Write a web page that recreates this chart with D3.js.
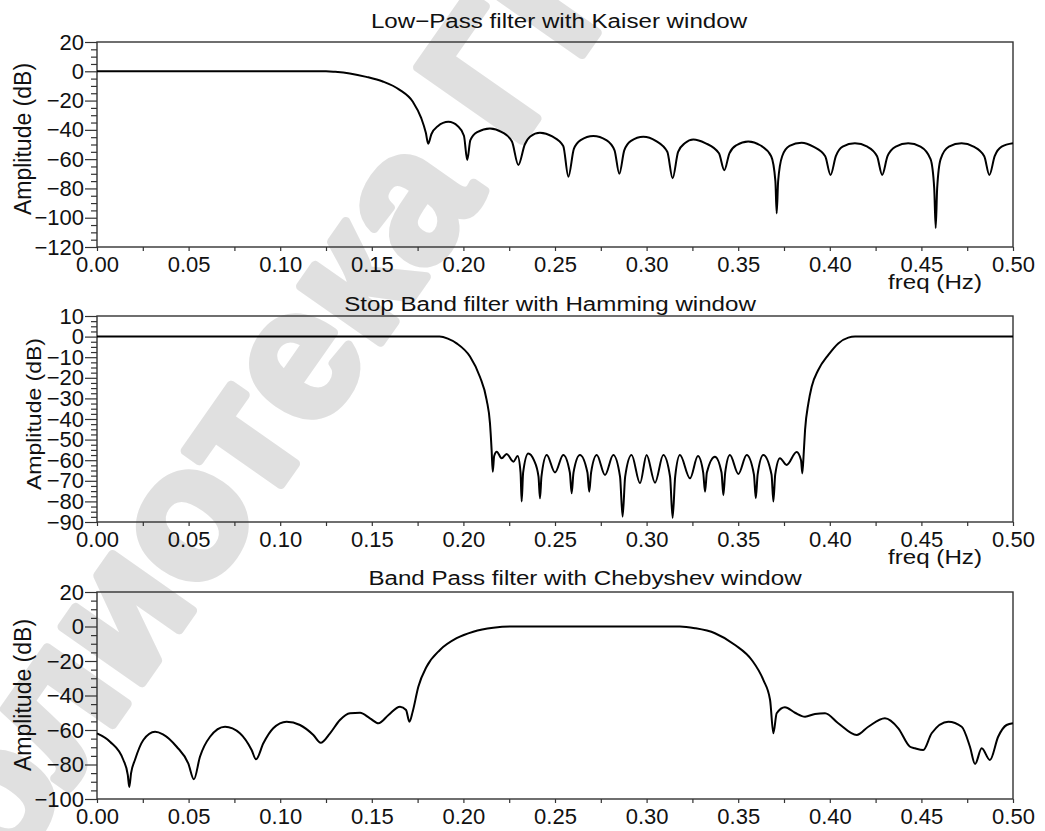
<!DOCTYPE html>
<html>
<head>
<meta charset="utf-8">
<script src="https://cdn.jsdelivr.net/npm/d3@7"></script>
<style>
  html, body { margin: 0; padding: 0; background: #fff; }
  svg { display: block; }
  text { font-family: "Liberation Sans", Arial, sans-serif; fill: #111; }
</style>
</head>
<body>
<svg id="chart" width="1045" height="831"></svg>
<script>
// ---- Frequency responses (freq in Hz, amplitude in dB) ----
const lowpassFreq = [0, 0.05, 0.10, 0.125, 0.13, 0.138, 0.147, 0.156, 0.165, 0.1725, 0.177, 0.1795, 0.1808,
  0.1825, 0.186, 0.1918, 0.197, 0.2003, 0.2021, 0.2038, 0.2075, 0.2145, 0.221, 0.2265, 0.230, 0.2335, 0.2365,
  0.2418, 0.2485, 0.2545, 0.2573, 0.2603, 0.264, 0.2709, 0.278, 0.2825, 0.2851, 0.2878, 0.2915, 0.2982, 0.305,
  0.3113, 0.3142, 0.3172, 0.321, 0.3255, 0.332, 0.3395, 0.3424, 0.3452, 0.349, 0.3555, 0.362, 0.368, 0.3703,
  0.3710, 0.3718, 0.374, 0.378, 0.3846, 0.391, 0.3975, 0.4004, 0.4033, 0.407, 0.4137, 0.4205, 0.4258, 0.4286,
  0.4315, 0.436, 0.4428, 0.4495, 0.455, 0.457, 0.4578, 0.4586, 0.4605, 0.465, 0.4719, 0.4785, 0.4843, 0.4871,
  0.49, 0.4938, 0.5];
const lowpassDb = [0, 0, 0, 0, -0.4, -1.5, -3.8, -7, -12.5, -21, -32, -42, -49.5,
  -43, -37.5, -34.5, -37.5, -44, -60.5, -47, -41.5, -39, -41.5, -48, -64, -50, -44.5,
  -42, -44.5, -51, -72, -53, -47, -44.2, -47, -54, -70, -54, -47.5, -44.7, -47.5,
  -55, -73, -55, -49, -46.5, -49, -56, -67.5, -56, -50.5, -48, -50.5, -58, -75,
  -97, -75, -58, -51, -48.8, -51.5, -58, -70.8, -58, -51.5, -49.2, -51.5, -58, -70.8,
  -58, -51.5, -49.2, -51.5, -60, -80, -107, -80, -60, -51.5, -49.2, -51.5, -58, -70.8,
  -58, -51.5, -49.2];

const stopbandFreq = [0, 0.1, 0.187, 0.1915, 0.1963, 0.2036, 0.209, 0.2127, 0.2145, 0.2154, 0.216, 0.2168,
  0.2182, 0.2209, 0.2236, 0.2273, 0.2296, 0.2312, 0.2318, 0.2326, 0.2354, 0.2385, 0.2410, 0.2418, 0.2426,
  0.2455, 0.250, 0.2545, 0.2581, 0.2591, 0.2601, 0.2636, 0.2677, 0.2687, 0.2697, 0.2728, 0.2773, 0.2818,
  0.2855, 0.2869, 0.2883, 0.2918, 0.2964, 0.300, 0.3046, 0.3091, 0.3128, 0.3142, 0.3156, 0.3182, 0.3237,
  0.3280, 0.3309, 0.3319, 0.3329, 0.3373, 0.3409, 0.3419, 0.3429, 0.3455, 0.3501, 0.3546, 0.3586, 0.3596,
  0.3606, 0.3637, 0.3682, 0.3692, 0.3702, 0.3728, 0.3764, 0.3819, 0.3843, 0.385, 0.3858, 0.3865, 0.3883,
  0.3901, 0.3937, 0.3992, 0.4046, 0.4101, 0.4138, 0.45, 0.5];
const stopbandDb = [0, 0, 0, -1, -3.3, -9.7, -19.5, -30.8, -42, -55, -65.6, -58,
  -55.9, -59.1, -57, -60.7, -58, -66, -80, -66, -56.7, -60, -68, -78.5, -68,
  -57.5, -66, -57.5, -66, -76, -66, -57.5, -66, -75.3, -66, -57.5, -67.2, -57.5,
  -68, -87.4, -68, -57.5, -71.2, -57.5, -70.9, -57.5, -68, -88, -68, -57.5, -68.8,
  -58, -66, -75.3, -66, -58.3, -66, -77, -66, -57.5, -66.7, -57.5, -67, -78.5,
  -67, -57.5, -67, -80, -67, -59, -62.3, -56, -60, -66.4, -56, -45.3, -32.4,
  -24.3, -16.2, -8.9, -3.3, -0.5, 0, 0, 0];

const bandpassFreq = [0, 0.0071, 0.0144, 0.0168, 0.0176, 0.0186, 0.0207, 0.0253, 0.0317, 0.036, 0.0435,
  0.0498, 0.0529, 0.0562, 0.0617, 0.0699, 0.078, 0.0844, 0.0868, 0.0908, 0.0962, 0.1035, 0.1108, 0.1181,
  0.1221, 0.1272, 0.1326, 0.1381, 0.1436, 0.149, 0.1536, 0.1591, 0.1654, 0.1687, 0.1705, 0.1723, 0.1754,
  0.1799, 0.1872, 0.1963, 0.2054, 0.2163, 0.2254, 0.3182, 0.3264, 0.3373, 0.3483, 0.3574, 0.3637, 0.3674,
  0.3692, 0.371, 0.3755, 0.381, 0.3865, 0.3919, 0.3974, 0.4046, 0.4147, 0.421, 0.4301, 0.4374, 0.4438,
  0.4465, 0.451, 0.4556, 0.4647, 0.472, 0.4765, 0.4793, 0.4829, 0.4874, 0.4919, 0.4965, 0.5];
const bandpassDb = [-62, -66.8, -77.4, -86, -93, -85, -77.4, -65.8, -61, -62.5, -69.7,
  -79.3, -88.6, -75.5, -63.9, -58.1, -61.9, -71.6, -77, -67.7, -59, -55.2, -57.1, -62.9,
  -67.4, -61.9, -54.2, -50.3, -50, -53.2, -56.1, -51.3, -46.5, -48.4, -55.2, -49.4, -34.9,
  -23.3, -13.6, -6.8, -3, -0.7, 0, 0, -1, -3.9, -10.7, -19.4, -31, -42.6,
  -61.9, -50.3, -46.8, -50, -52.3, -50.7, -50.3, -56.1, -62.9, -58.1, -53.2, -59, -69.7,
  -70.6, -71.6, -61.9, -55.2, -58.1, -69.7, -79.7, -70.6, -77.4, -63.9, -57.1, -56.1];

// ---- Axis ticks and labels ----
const freqTicks = [0, 0.05, 0.10, 0.15, 0.20, 0.25, 0.30, 0.35, 0.40, 0.45, 0.50];
const freqTickLabels = ["0.00", "0.05", "0.10", "0.15", "0.20", "0.25", "0.30", "0.35", "0.40", "0.45", "0.50"];
const freqMinorTicks = [0.025, 0.075, 0.125, 0.175, 0.225, 0.275, 0.325, 0.375, 0.425, 0.475];

const lowpassYTicks = [20, 0, -20, -40, -60, -80, -100, -120];
const lowpassYLabels = ["20", "0", "\u221220", "\u221240", "\u221260", "\u221280", "\u2212100", "\u2212120"];
const stopbandYTicks = [10, 0, -10, -20, -30, -40, -50, -60, -70, -80, -90];
const stopbandYLabels = ["10", "0", "\u221210", "\u221220", "\u221230", "\u221240", "\u221250", "\u221260", "\u221270", "\u221280", "\u221290"];
const bandpassYTicks = [20, 0, -20, -40, -60, -80, -100];
const bandpassYLabels = ["20", "0", "\u221220", "\u221240", "\u221260", "\u221280", "\u2212100"];

const titles = ["Low\u2212Pass filter with Kaiser window", "Stop Band filter with Hamming window", "Band Pass filter with Chebyshev window"];
const yAxisTitle = "Amplitude (dB)";
const xAxisTitle = "freq (Hz)";
const watermarkText = "Библиотека ГГТУ";

// ---- Panel layout ----
const left = 97, right = 1013;
const panels = [
  { freq: lowpassFreq, db: lowpassDb, yTicks: lowpassYTicks, yLabels: lowpassYLabels, yDomain: [-120, 20], minorStep: 5,
    top: 42, bottom: 247, title: titles[0], titleX: 559, titleY: 28, yTitleX: 23, yTitleY: 139, yTitleScale: 1, freqLabel: true },
  { freq: stopbandFreq, db: stopbandDb, yTicks: stopbandYTicks, yLabels: stopbandYLabels, yDomain: [-90, 10], minorStep: 2.5,
    top: 316, bottom: 522, title: titles[1], titleX: 550, titleY: 311, yTitleX: 35, yTitleY: 414, yTitleScale: 0.85, freqLabel: true },
  { freq: bandpassFreq, db: bandpassDb, yTicks: bandpassYTicks, yLabels: bandpassYLabels, yDomain: [-100, 20], minorStep: 5,
    top: 592, bottom: 799, title: titles[2], titleX: 585, titleY: 585, yTitleX: 23, yTitleY: 695, yTitleScale: 1, freqLabel: false }
];

const svg = d3.select("#chart");

// Faint diagonal library stamp behind the plots
svg.append("g")
  .attr("transform", "translate(262,400) rotate(-55)")
  .append("text")
  .attr("text-anchor", "middle")
  .attr("dominant-baseline", "central")
  .style("font-size", "185px")
  .style("font-weight", "bold")
  .style("fill", "#e0e0e0")
  .style("stroke", "#e0e0e0")
  .style("stroke-width", 9)
  .style("stroke-linejoin", "round")
  .text(watermarkText);

const x = d3.scaleLinear().domain([0, 0.5]).range([left, right]);

panels.forEach(p => {
  const y = d3.scaleLinear().domain(p.yDomain).range([p.bottom, p.top]);
  const g = svg.append("g");

  // minor y ticks
  const minor = d3.range(p.yDomain[0], p.yDomain[1] + 0.001, p.minorStep).filter(v => !p.yTicks.includes(v));
  g.append("g")
    .attr("transform", `translate(${left},0)`)
    .call(d3.axisLeft(y).tickValues(minor).tickSize(6).tickFormat(""))
    .call(s => s.select(".domain").remove())
    .call(s => s.selectAll("line").attr("stroke", "#333").attr("stroke-width", 1.2));

  // major y ticks with labels
  g.append("g")
    .attr("transform", `translate(${left},0)`)
    .call(d3.axisLeft(y).tickValues(p.yTicks).tickSize(12).tickPadding(1)
      .tickFormat((d, i) => p.yLabels[i]))
    .call(s => s.select(".domain").remove())
    .call(s => s.selectAll("line").attr("stroke", "#333").attr("stroke-width", 1.2))
    .call(s => s.selectAll("text").style("font-size", "22px").attr("fill", "#111"));

  // x ticks
  g.append("g")
    .attr("transform", `translate(0,${p.bottom})`)
    .call(d3.axisBottom(x).tickValues(freqMinorTicks).tickSize(4).tickFormat(""))
    .call(s => s.select(".domain").remove())
    .call(s => s.selectAll("line").attr("stroke", "#333").attr("stroke-width", 1.2));
  g.append("g")
    .attr("transform", `translate(0,${p.bottom})`)
    .call(d3.axisBottom(x).tickValues(freqTicks).tickSize(4).tickPadding(5)
      .tickFormat((d, i) => freqTickLabels[i]))
    .call(s => s.select(".domain").remove())
    .call(s => s.selectAll("line").attr("stroke", "#333").attr("stroke-width", 1.2))
    .call(s => s.selectAll("text").style("font-size", "22px").attr("fill", "#111"));

  // frame
  g.append("rect")
    .attr("x", left).attr("y", p.top)
    .attr("width", right - left).attr("height", p.bottom - p.top)
    .attr("fill", "none").attr("stroke", "#333").attr("stroke-width", 1.4);

  // response curve
  const pts = p.freq.map((f, i) => [f, p.db[i]]);
  const line = d3.line().x(d => x(d[0])).y(d => y(d[1])).curve(d3.curveMonotoneX);
  g.append("path")
    .datum(pts)
    .attr("d", line)
    .attr("fill", "none")
    .attr("stroke", "#000")
    .attr("stroke-width", 2)
    .attr("stroke-linejoin", "round");

  // title
  g.append("g")
    .attr("transform", `translate(${p.titleX},${p.titleY}) scale(1.15,1)`)
    .append("text")
    .attr("text-anchor", "middle")
    .style("font-size", "21px")
    .text(p.title);

  // y axis title
  g.append("g")
    .attr("transform", `translate(${p.yTitleX},${p.yTitleY}) scale(${p.yTitleScale},1) rotate(-90)`)
    .append("text")
    .attr("text-anchor", "middle")
    .attr("dominant-baseline", "central")
    .style("font-size", "23px")
    .text(yAxisTitle);

  // x axis title
  if (p.freqLabel) {
    g.append("g")
      .attr("transform", `translate(935,${p.bottom + 42}) scale(1.15,1)`)
      .append("text")
      .attr("text-anchor", "middle")
      .style("font-size", "21px")
      .text(xAxisTitle);
  }
});
</script>
</body>
</html>
